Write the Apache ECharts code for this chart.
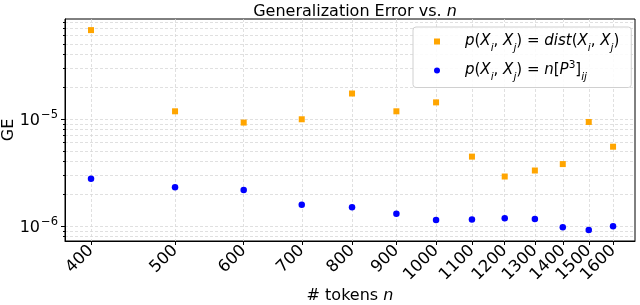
<!DOCTYPE html>
<html>
<head>
<meta charset="utf-8">
<script src="https://cdn.jsdelivr.net/npm/echarts@6/dist/echarts.min.js"></script>
<style>html,body{margin:0;padding:0;background:#fff}#c{width:640px;height:305px}</style>
</head>
<body>
<div id="c"></div>
<script>
const nTokens = [400, 500, 600, 700, 800, 900, 1000, 1100, 1200, 1300, 1400, 1500, 1600];
const geDist = [6.77e-5, 1.18e-5, 9.26e-6, 9.94e-6, 1.73e-5, 1.18e-5, 1.43e-5, 4.45e-6, 2.90e-6, 3.30e-6, 3.79e-6, 9.38e-6, 5.51e-6];
const geP3 = [2.77e-6, 2.30e-6, 2.17e-6, 1.58e-6, 1.50e-6, 1.30e-6, 1.14e-6, 1.15e-6, 1.18e-6, 1.16e-6, 9.73e-7, 9.18e-7, 9.93e-7];
const xTickValues = [400, 500, 600, 700, 800, 900, 1000, 1100, 1200, 1300, 1400, 1500, 1600];
const yMajorTicks = [1e-6, 1e-5];
const yMinorTicks = [8e-7, 9e-7, 2e-6, 3e-6, 4e-6, 5e-6, 6e-6, 7e-6, 8e-6, 9e-6, 2e-5, 3e-5, 4e-5, 5e-5, 6e-5, 7e-5, 8e-5];

const FONT = 'DejaVu Sans';
const FS = 16;
const chart = echarts.init(document.getElementById('c'), null, {renderer: 'canvas'});
const gridLine = {show: true, lineStyle: {color: '#d8d8d8', type: [3, 2], width: 0.8}};
const legendRich = {
  i: {fontFamily: FONT, fontStyle: 'italic', fontSize: 15, color: '#000', lineHeight: 18, verticalAlign: 'middle'},
  n: {fontFamily: FONT, fontSize: 15, color: '#000', lineHeight: 18, verticalAlign: 'middle'},
  s: {fontFamily: FONT, fontStyle: 'italic', fontSize: 10.5, color: '#000', lineHeight: 18, verticalAlign: 'bottom', padding: [0, 0, -3, 0]},
  u: {fontFamily: FONT, fontSize: 10.5, color: '#000', lineHeight: 18, verticalAlign: 'top', padding: [-2, 0, 0, 0]},
  pad: {width: 20}
};
const legendText = {
  dist: '{pad|}{i|p}{n|(}{i|X}{s|i}{n|, }{i|X}{s|j}{n|) = }{i|dist}{n|(}{i|X}{s|i}{n|, }{i|X}{s|j}{n|)}',
  p3: '{pad|}{i|p}{n|(}{i|X}{s|i}{n|, }{i|X}{s|j}{n|) = }{i|n}{n|[}{i|P}{u|3}{n|]}{s|ij}'
};

chart.setOption({
  animation: false,
  backgroundColor: '#fff',
  title: {
    text: '{a|Generalization Error vs. }{b|n}',
    left: 350, textAlign: 'center', top: -1,
    textStyle: {fontWeight: 'normal', rich: {
      a: {fontFamily: FONT, fontSize: 16, fontWeight: 'normal', color: '#000'},
      b: {fontFamily: FONT, fontSize: 16, fontWeight: 'normal', fontStyle: 'italic', color: '#000'}
    }}
  },
  grid: {left: 65, right: 5, top: 19, bottom: 64, outerBoundsMode: 'none', containLabel: false,
    show: true, borderColor: '#000', borderWidth: 1, backgroundColor: 'transparent'},
  legend: {
    orient: 'vertical', left: 413, top: 27,
    padding: [7, 12, 5, 21], itemGap: 6,
    backgroundColor: 'rgba(255,255,255,0.85)', borderColor: '#d0d0d0', borderWidth: 1, borderRadius: 3,
    itemWidth: 6, itemHeight: 6,
    data: [{name: 'dist', icon: 'rect'}, {name: 'p3', icon: 'circle'}],
    formatter: n => legendText[n],
    textStyle: {rich: legendRich}
  },
  xAxis: {
    type: 'log', logBase: 10, min: 373.3, max: 1696,
    name: '{a|# tokens }{b|n}', nameLocation: 'middle', nameGap: 47, nameMoveOverlap: false,
    nameTextStyle: {verticalAlign: 'top', rich: {
      a: {fontFamily: FONT, fontSize: FS, color: '#000'},
      b: {fontFamily: FONT, fontSize: FS, fontStyle: 'italic', color: '#000'}
    }},
    axisLine: {show: true, lineStyle: {color: '#000', width: 1}},
    axisTick: {show: true, customValues: xTickValues, length: 4, lineStyle: {color: '#000'}},
    axisLabel: {show: true, customValues: xTickValues, rotate: 45, fontFamily: FONT, fontSize: 16.5, color: '#000', margin: 7,
      formatter: v => String(Math.round(v))},
    splitLine: gridLine,
    minorTick: {show: false}, minorSplitLine: {show: false}
  },
  yAxis: [{
    type: 'log', logBase: 10, min: 7.24e-7, max: 8.6e-5,
    name: 'GE', nameLocation: 'middle', nameGap: 48, nameRotate: 90, nameMoveOverlap: false,
    nameTextStyle: {fontFamily: FONT, fontSize: FS, color: '#000'},
    axisLine: {show: true, lineStyle: {color: '#000', width: 1}},
    axisTick: {show: true, customValues: yMajorTicks, length: 4, lineStyle: {color: '#000'}},
    axisLabel: {
      show: true, customValues: yMajorTicks, margin: 7,
      formatter: v => '{b|10}{e|−' + Math.abs(Math.round(Math.log10(v))) + '}',
      rich: {
        b: {fontFamily: FONT, fontSize: 16, color: '#000', lineHeight: 20, verticalAlign: 'bottom'},
        e: {fontFamily: FONT, fontSize: 11.5, color: '#000', lineHeight: 20, verticalAlign: 'top', padding: [0, 0, 0, 1]}
      }
    },
    splitLine: gridLine
  }, {
    type: 'log', logBase: 10, min: 7.24e-7, max: 8.6e-5, position: 'left',
    axisLine: {show: false},
    axisTick: {show: true, customValues: yMinorTicks, length: 2, lineStyle: {color: '#000'}},
    axisLabel: {show: false},
    splitLine: gridLine
  }],
  series: [{
    name: 'dist', type: 'scatter', yAxisIndex: 0,
    symbol: 'rect', symbolSize: 6,
    itemStyle: {color: '#FFA500', opacity: 1},
    data: nTokens.map((n, i) => [n, geDist[i]])
  }, {
    name: 'p3', type: 'scatter', yAxisIndex: 0,
    symbol: 'circle', symbolSize: 6.5,
    itemStyle: {color: '#0000FF', opacity: 1},
    data: nTokens.map((n, i) => [n, geP3[i]])
  }]
});
</script>
</body>
</html>
